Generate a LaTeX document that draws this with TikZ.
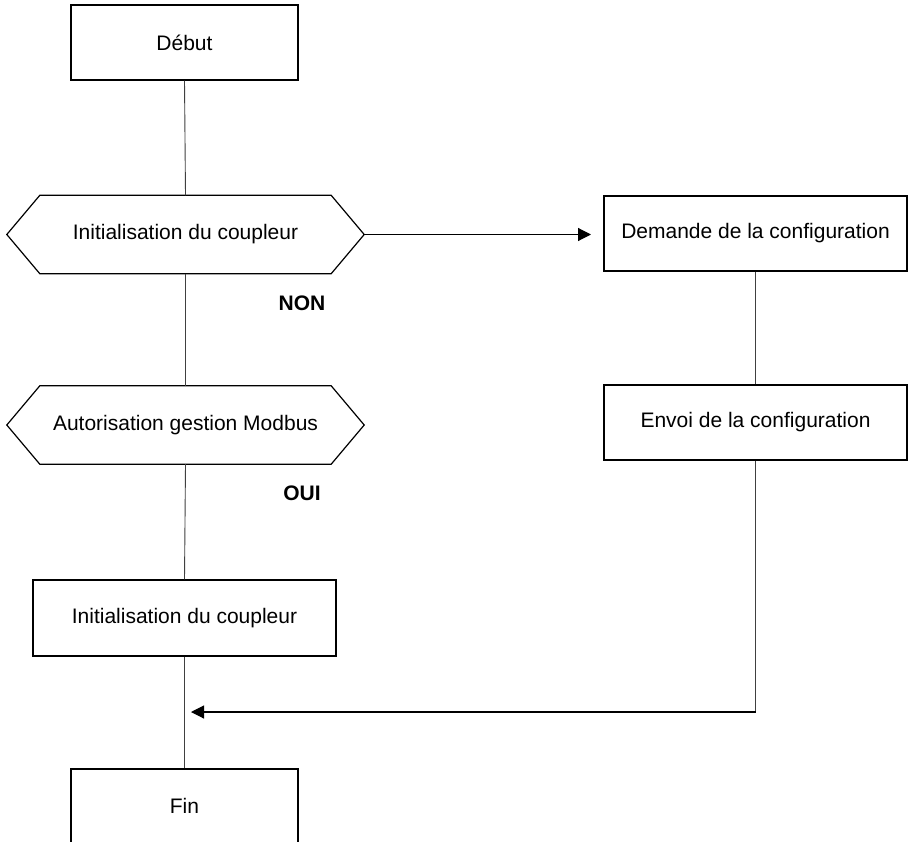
\documentclass[tikz,border=0pt]{standalone}
\usepackage{fontspec}
\setmainfont{Liberation Sans}
\usetikzlibrary{calc,arrows.meta}
\begin{document}
\begin{tikzpicture}[x=1pt,y=-1pt,
  box/.style={draw=black,line width=1.3pt,fill=white,minimum width=227pt,minimum height=75pt,inner sep=0pt,font=\fontsize{21}{25}\selectfont},
  wbox/.style={box,minimum width=303pt},
  hexn/.style={minimum width=357pt,minimum height=78pt,inner sep=0pt,font=\fontsize{21}{25}\selectfont},
  hexline/.style={draw=black,line width=1.2pt},
  conn/.style={draw=black!75,line width=0.9pt},
  arr/.style={draw=black,line width=1.1pt,-{Triangle[length=13pt,width=13pt]}},
  lbl/.style={font=\fontsize{21}{25}\selectfont\bfseries}]
\clip (0,0) rectangle (912,842);
\fill[white] (0,0) rectangle (912,842);
\node[box] (debut) at (184.5,42.5) {Début};
\node[hexn] (h1) at (185.5,234.5) {Initialisation du coupleur};
\draw[hexline] (h1.west) -- ($(h1.north west)+(33,0)$) -- ($(h1.north east)+(-33,0)$) -- (h1.east) -- ($(h1.south east)+(-33,0)$) -- ($(h1.south west)+(33,0)$) -- cycle;
\node[wbox] (dem) at (755.5,233.5) {Demande de la configuration};
\node[hexn] (h2) at (185.5,425) {Autorisation gestion Modbus};
\draw[hexline] (h2.west) -- ($(h2.north west)+(33,0)$) -- ($(h2.north east)+(-33,0)$) -- (h2.east) -- ($(h2.south east)+(-33,0)$) -- ($(h2.south west)+(33,0)$) -- cycle;
\node[wbox] (env) at (755.5,422.5) {Envoi de la configuration};
\node[wbox,minimum height=76pt] (init) at (184.5,618) {Initialisation du coupleur};
\node[box,minimum height=120pt] (fin) at (184.5,829) {};
\node[font=\fontsize{21}{25}\selectfont] (fint) at (184.5,806) {Fin};
\node[lbl] (non) at (302,303) {NON};
\node[lbl] (oui) at (302,493) {OUI};
\coordinate (tip1) at (591,234.5);
\coordinate (corner) at (env.south |- 0,712);
\coordinate (tip2) at (191,712);
\draw[conn] (debut.south) -- (h1.north);
\draw[conn] (h1.south) -- (h2.north);
\draw[conn] (h2.south) -- (init.north);
\draw[conn] (init.south) -- (fin.north);
\draw[conn] (dem.south) -- (env.north);
\draw[arr] (h1.east) -- (tip1);
\draw[conn] (env.south) -- (corner);
\draw[arr] (corner) -- (tip2);
\end{tikzpicture}
\end{document}
